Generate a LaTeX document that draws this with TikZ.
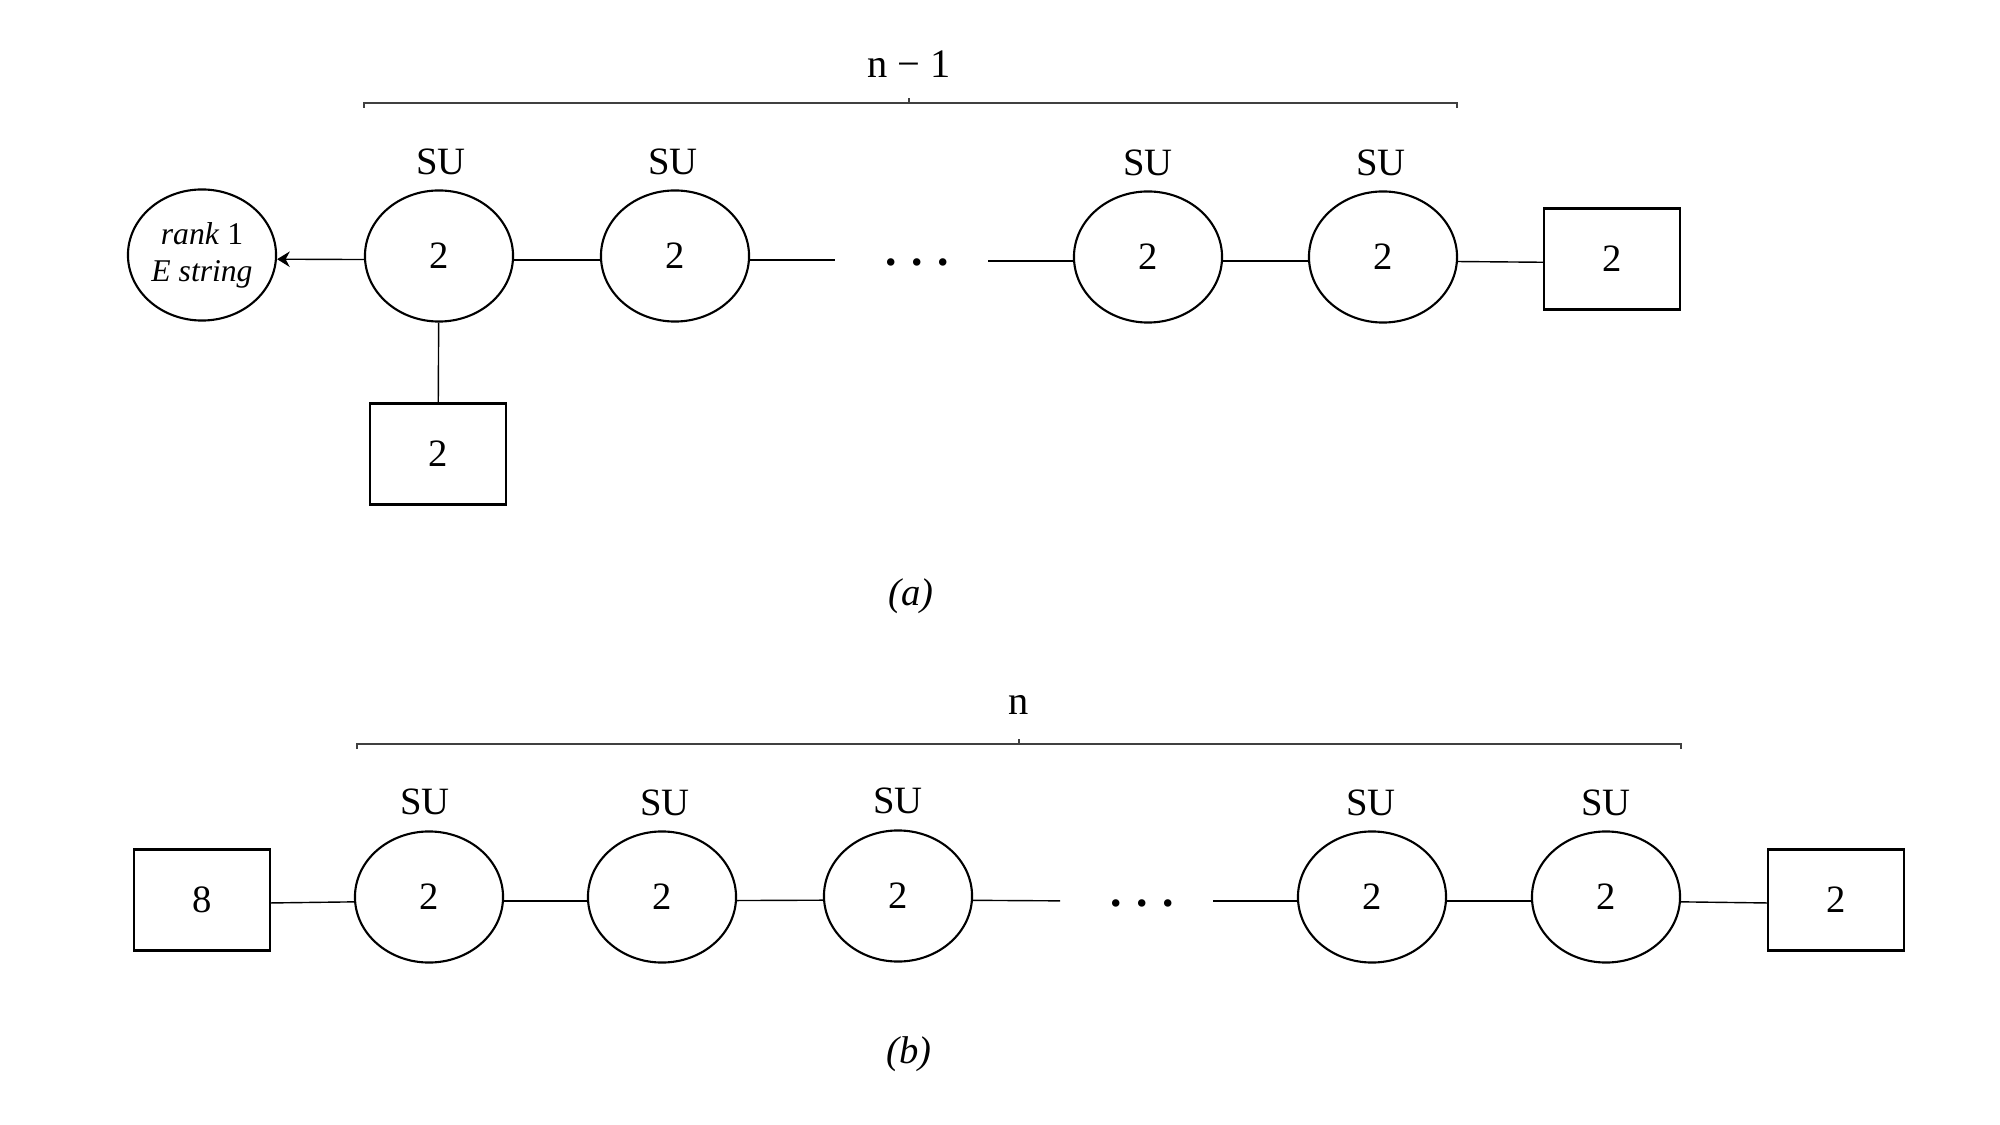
\documentclass[tikz,border=0pt]{standalone}
\usepackage{fontspec}
\setmainfont{Liberation Serif}
\usetikzlibrary{shapes.geometric,arrows.meta}
\begin{document}
\begin{tikzpicture}[x=0.01cm,y=-0.01cm,
  gauge/.style={draw,ellipse,line width=0.6pt,minimum width=1.48cm,minimum height=1.31cm,inner sep=0pt,font=\fontsize{11}{13}\selectfont},
  flav/.style={draw,rectangle,line width=0.6pt,minimum width=1.36cm,minimum height=1.01cm,inner sep=0pt,font=\fontsize{11}{13}\selectfont},
  lbl/.style={inner sep=0pt,font=\fontsize{11}{13}\selectfont},
  dotsty/.style={inner sep=0pt,font=\fontsize{13}{15}\selectfont\bfseries},
  link/.style={line width=0.4pt,transform canvas={yshift=-1.1pt}},
  vlink/.style={line width=0.4pt},
  brk/.style={line width=0.45pt,black!75}]
\useasboundingbox (0,0) rectangle (2000,1125);
\fill[white] (0,0) rectangle (2000,1125);

% ---------- (a) ----------
\node[lbl,font=\fontsize{11.5}{13}\selectfont] (nm1) at (909,64) {n − 1};
\coordinate (bLa) at (364,103);
\coordinate (bRa) at (1457,103);
\coordinate (bCa) at (909,103);
\draw[brk] (bLa) ++(0,5) -- (bLa) -- (bRa) -- ++(0,5);
\draw[brk] (bCa) -- ++(0,-5);

\node[lbl] (sa1) at (441,162) {SU};
\node[lbl] (sa2) at (673,162) {SU};
\node[lbl] (sa3) at (1148,163) {SU};
\node[lbl] (sa4) at (1381,163) {SU};

\node[gauge,font=\fontsize{9}{10.5}\selectfont,align=center] (rank) at (202,255) {\textit{rank} 1\\[0pt]\textit{E string}};
\node[gauge] (a1) at (439,256) {2};
\node[gauge] (a2) at (675,256) {2};
\node[gauge] (a3) at (1148,257) {2};
\node[gauge] (a4) at (1383,257) {2};
\node[flav] (af) at (1612,259) {2};
\node[flav] (ab) at (438,454) {2};
\node[dotsty] (dotsa) at (917,262) {.\hspace{0.32em}.\hspace{0.32em}.};
\coordinate (ga1) at (835,256);
\coordinate (ga2) at (988,257);

\draw[link,-{Stealth[length=3.6pt,width=4.4pt]}] (a1) -- (rank);
\draw[link] (a1) -- (a2);
\draw[link] (a2) -- (ga1);
\draw[link] (ga2) -- (a3);
\draw[link] (a3) -- (a4);
\draw[link] (a4) -- (af);
\draw[vlink] (a1) -- (ab);

\node[lbl] (capa) at (911,596) {\textit{(a)}};

% ---------- (b) ----------
\node[lbl,font=\fontsize{11.5}{13}\selectfont] (nb) at (1019,705) {n};
\coordinate (bLb) at (357,744);
\coordinate (bRb) at (1681,744);
\coordinate (bCb) at (1019,744);
\draw[brk] (bLb) ++(0,5) -- (bLb) -- (bRb) -- ++(0,5);
\draw[brk] (bCb) -- ++(0,-5);

\node[lbl] (sb1) at (425,802) {SU};
\node[lbl] (sb2) at (665,803) {SU};
\node[lbl] (sb3) at (898,801) {SU};
\node[lbl] (sb4) at (1371,803) {SU};
\node[lbl] (sb5) at (1606,803) {SU};

\node[flav] (b8) at (202,900) {8};
\node[gauge] (b1) at (429,897) {2};
\node[gauge] (b2) at (662,897) {2};
\node[gauge] (b3) at (898,896) {2};
\node[gauge] (b4) at (1372,897) {2};
\node[gauge] (b5) at (1606,897) {2};
\node[flav] (bf) at (1836,900) {2};
\node[dotsty] (dotsb) at (1142,903) {.\hspace{0.32em}.\hspace{0.32em}.};
\coordinate (gb1) at (1060,897);
\coordinate (gb2) at (1213,897);

\draw[link] (b8) -- (b1);
\draw[link] (b1) -- (b2);
\draw[link] (b2) -- (b3);
\draw[link] (b3) -- (gb1);
\draw[link] (gb2) -- (b4);
\draw[link] (b4) -- (b5);
\draw[link] (b5) -- (bf);

\node[lbl] (capb) at (909,1054) {\textit{(b)}};
\end{tikzpicture}
\end{document}
